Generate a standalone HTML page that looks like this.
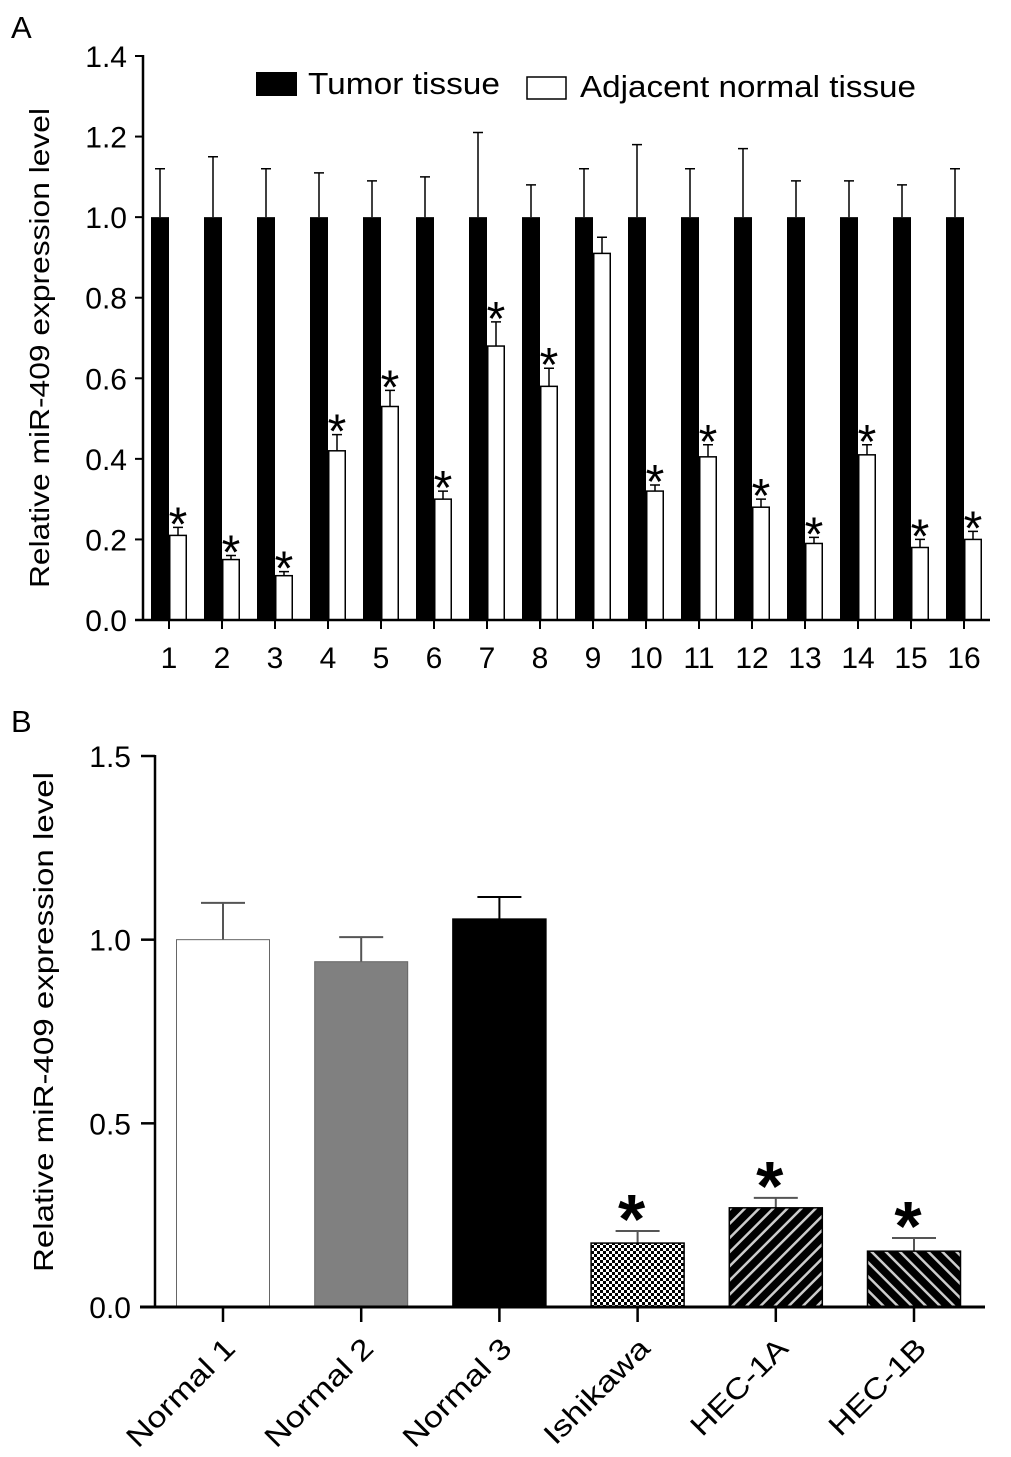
<!DOCTYPE html>
<html><head><meta charset="utf-8"><style>
html,body{margin:0;padding:0;background:#fff;}
svg{display:block;font-family:"Liberation Sans",Arial,sans-serif;}
</style></head><body>
<svg id="chart" width="1011" height="1457" viewBox="0 0 1011 1457" xmlns="http://www.w3.org/2000/svg">
<defs>
<pattern id="checker" width="6" height="6" patternUnits="userSpaceOnUse">
<rect width="6" height="6" fill="#fff"/><rect width="3" height="3" fill="#000"/><rect x="3" y="3" width="3" height="3" fill="#000"/>
</pattern>
<pattern id="hatchR" width="10" height="10" patternUnits="userSpaceOnUse" patternTransform="rotate(45)">
<rect width="10" height="10" fill="#000"/><rect x="0" y="0" width="2.5" height="10" fill="#ccc"/>
</pattern>
<pattern id="hatchL" width="10" height="10" patternUnits="userSpaceOnUse" patternTransform="rotate(-45)">
<rect width="10" height="10" fill="#000"/><rect x="0" y="0" width="2.5" height="10" fill="#ccc"/>
</pattern>
</defs>
<text x="11" y="38" style="font-size:31px">A</text>
<text x="11" y="732" style="font-size:31px">B</text>
<g id="pa"></g>
<g id="pb"></g>
</svg>
<script>
// Panel A data
const catsA = ["1","2","3","4","5","6","7","8","9","10","11","12","13","14","15","16"];
const tumorVals = [1,1,1,1,1,1,1,1,1,1,1,1,1,1,1,1];
const tumorErrTop = [1.12,1.15,1.12,1.11,1.09,1.10,1.21,1.08,1.12,1.18,1.12,1.17,1.09,1.09,1.08,1.12];
const normalVals = [0.21,0.15,0.11,0.42,0.53,0.30,0.68,0.58,0.91,0.32,0.405,0.28,0.19,0.41,0.18,0.20];
const normalErrTop = [0.23,0.16,0.12,0.46,0.57,0.32,0.74,0.625,0.95,0.335,0.435,0.30,0.205,0.435,0.20,0.22];
const sigA = [1,1,1,1,1,1,1,1,0,1,1,1,1,1,1,1];
const ticksA = ["0.0","0.2","0.4","0.6","0.8","1.0","1.2","1.4"];
// Panel B data
const catsB = ["Normal 1","Normal 2","Normal 3","Ishikawa","HEC-1A","HEC-1B"];
const valsB = [1.0,0.94,1.056,0.174,0.27,0.152];
const errTopB = [1.1,1.007,1.116,0.207,0.297,0.188];
const sigB = [0,0,0,1,1,1];
const ticksB = ["0.0","0.5","1.0","1.5"];

const NS="http://www.w3.org/2000/svg";
function mk(parent,tag,attrs,text){const e=document.createElementNS(NS,tag);for(const k in attrs)e.setAttribute(k,attrs[k]);if(text!==undefined)e.textContent=text;parent.appendChild(e);return e;}

// ----- Panel A -----
const pa=document.getElementById('pa');
const yA=v=>620-v*(564/1.4);
const xA=i=>169+i*53;
const bw=18;
ticksA.forEach(t=>{
  const y=yA(parseFloat(t));
  let l=mk(pa,'line',{x1:135,x2:143,y1:y,y2:y,stroke:'#000','stroke-width':2});
  
  
  let tx=mk(pa,'text',{x:127,y:y+11,style:'font-size:30px','text-anchor':'end'},t);
  
  
});
catsA.forEach((c,i)=>{
  const cx=xA(i);
  let eb=mk(pa,'path',{d:`M${cx-bw/2} ${yA(tumorVals[i])}V${yA(tumorErrTop[i])}M${cx-bw/2-5} ${yA(tumorErrTop[i])}H${cx-bw/2+5}`,stroke:'#000','stroke-width':1.5,fill:'none'});
  
  
  let b=mk(pa,'rect',{x:cx-bw,y:yA(tumorVals[i]),width:bw,height:620-yA(tumorVals[i]),fill:'#000'});
  
  
  let en=mk(pa,'path',{d:`M${cx+bw/2} ${yA(normalVals[i])}V${yA(normalErrTop[i])}M${cx+bw/2-5} ${yA(normalErrTop[i])}H${cx+bw/2+5}`,stroke:'#000','stroke-width':1.5,fill:'none'});
  
  
  let w=mk(pa,'rect',{x:cx+0.75,y:yA(normalVals[i]),width:bw-1.5,height:620-yA(normalVals[i]),fill:'#fff',stroke:'#000','stroke-width':1.5});
  
  
  if(sigA[i]){
    let s=mk(pa,'text',{x:cx+bw/2,y:yA(normalErrTop[i])+13,style:'font-size:48px','text-anchor':'middle'},'*');
    
    
  }
  let t=mk(pa,'line',{x1:cx,x2:cx,y1:620,y2:629,stroke:'#000','stroke-width':2});
  
  
  let lb=mk(pa,'text',{x:cx,y:668,style:'font-size:30px','text-anchor':'middle'},c);
  
  
});
let ax=mk(pa,'line',{x1:143,x2:143,y1:55,y2:621,stroke:'#000','stroke-width':2.5});


let axx=mk(pa,'line',{x1:135,x2:990,y1:620,y2:620,stroke:'#000','stroke-width':2.5});


let yt=mk(pa,'text',{x:0,y:0,style:'font-size:28px','text-anchor':'middle',textLength:480,lengthAdjust:'spacingAndGlyphs',transform:'translate(49,348) rotate(-90)'},'Relative miR-409 expression level');


let lg1=mk(pa,'rect',{x:256,y:72,width:41,height:24,fill:'#000'});


let lt1=mk(pa,'text',{x:308,y:94,style:'font-size:31px',textLength:192,lengthAdjust:'spacingAndGlyphs'},'Tumor tissue');


let lg2=mk(pa,'rect',{x:527,y:77,width:39,height:22,fill:'#fff',stroke:'#000','stroke-width':1.5});


let lt2=mk(pa,'text',{x:580,y:97,style:'font-size:31px',textLength:336,lengthAdjust:'spacingAndGlyphs'},'Adjacent normal tissue');



// ----- Panel B -----
const pb=document.getElementById('pb');
const yB=v=>1307-v*(551/1.5);
const xB=i=>223+i*138.2;
const bwB=93;
const fills=['#fff','#808080','#000','url(#checker)','url(#hatchR)','url(#hatchL)'];
const labLen=[140,140,140,136,124,124];
ticksB.forEach(t=>{
  const y=yB(parseFloat(t));
  let l=mk(pb,'line',{x1:141,x2:155,y1:y,y2:y,stroke:'#000','stroke-width':2.5});
  
  
  let tx=mk(pb,'text',{x:131,y:y+11,style:'font-size:30px','text-anchor':'end'},t);
  
  
});
catsB.forEach((c,i)=>{
  const cx=xB(i);
  let eb=mk(pb,'path',{d:`M${cx} ${yB(valsB[i])}V${yB(errTopB[i])}M${cx-22} ${yB(errTopB[i])}H${cx+22}`,stroke:i===2?'#000':'#555','stroke-width':2,fill:'none'});
  
  
  let b=mk(pb,'rect',{x:cx-bwB/2,y:yB(valsB[i]),width:bwB,height:1307-yB(valsB[i]),fill:fills[i],stroke:i<2?'#666':'#000','stroke-width':i<2?1:1.5});
  
  
  if(sigB[i]){
    let s=mk(pb,'text',{x:cx-6,y:yB(errTopB[i])+12,style:'font-size:70px;font-weight:bold','text-anchor':'middle'},'*');
    
    
  }
  let t=mk(pb,'line',{x1:cx,x2:cx,y1:1307,y2:1322,stroke:'#000','stroke-width':2.5});
  
  
  let lb=mk(pb,'text',{x:0,y:0,style:'font-size:29px','text-anchor':'end',textLength:labLen[i],lengthAdjust:'spacingAndGlyphs',transform:`translate(${cx+14},${1350}) rotate(-45)`},c);
  
  
});
let bx=mk(pb,'line',{x1:155,x2:155,y1:755,y2:1308,stroke:'#000','stroke-width':2.5});


let bxx=mk(pb,'line',{x1:140,x2:985,y1:1307,y2:1307,stroke:'#000','stroke-width':3});


let ytb=mk(pb,'text',{x:0,y:0,style:'font-size:28px','text-anchor':'middle',textLength:500,lengthAdjust:'spacingAndGlyphs',transform:'translate(53,1022) rotate(-90)'},'Relative miR-409 expression level');


</script>
</body></html>
